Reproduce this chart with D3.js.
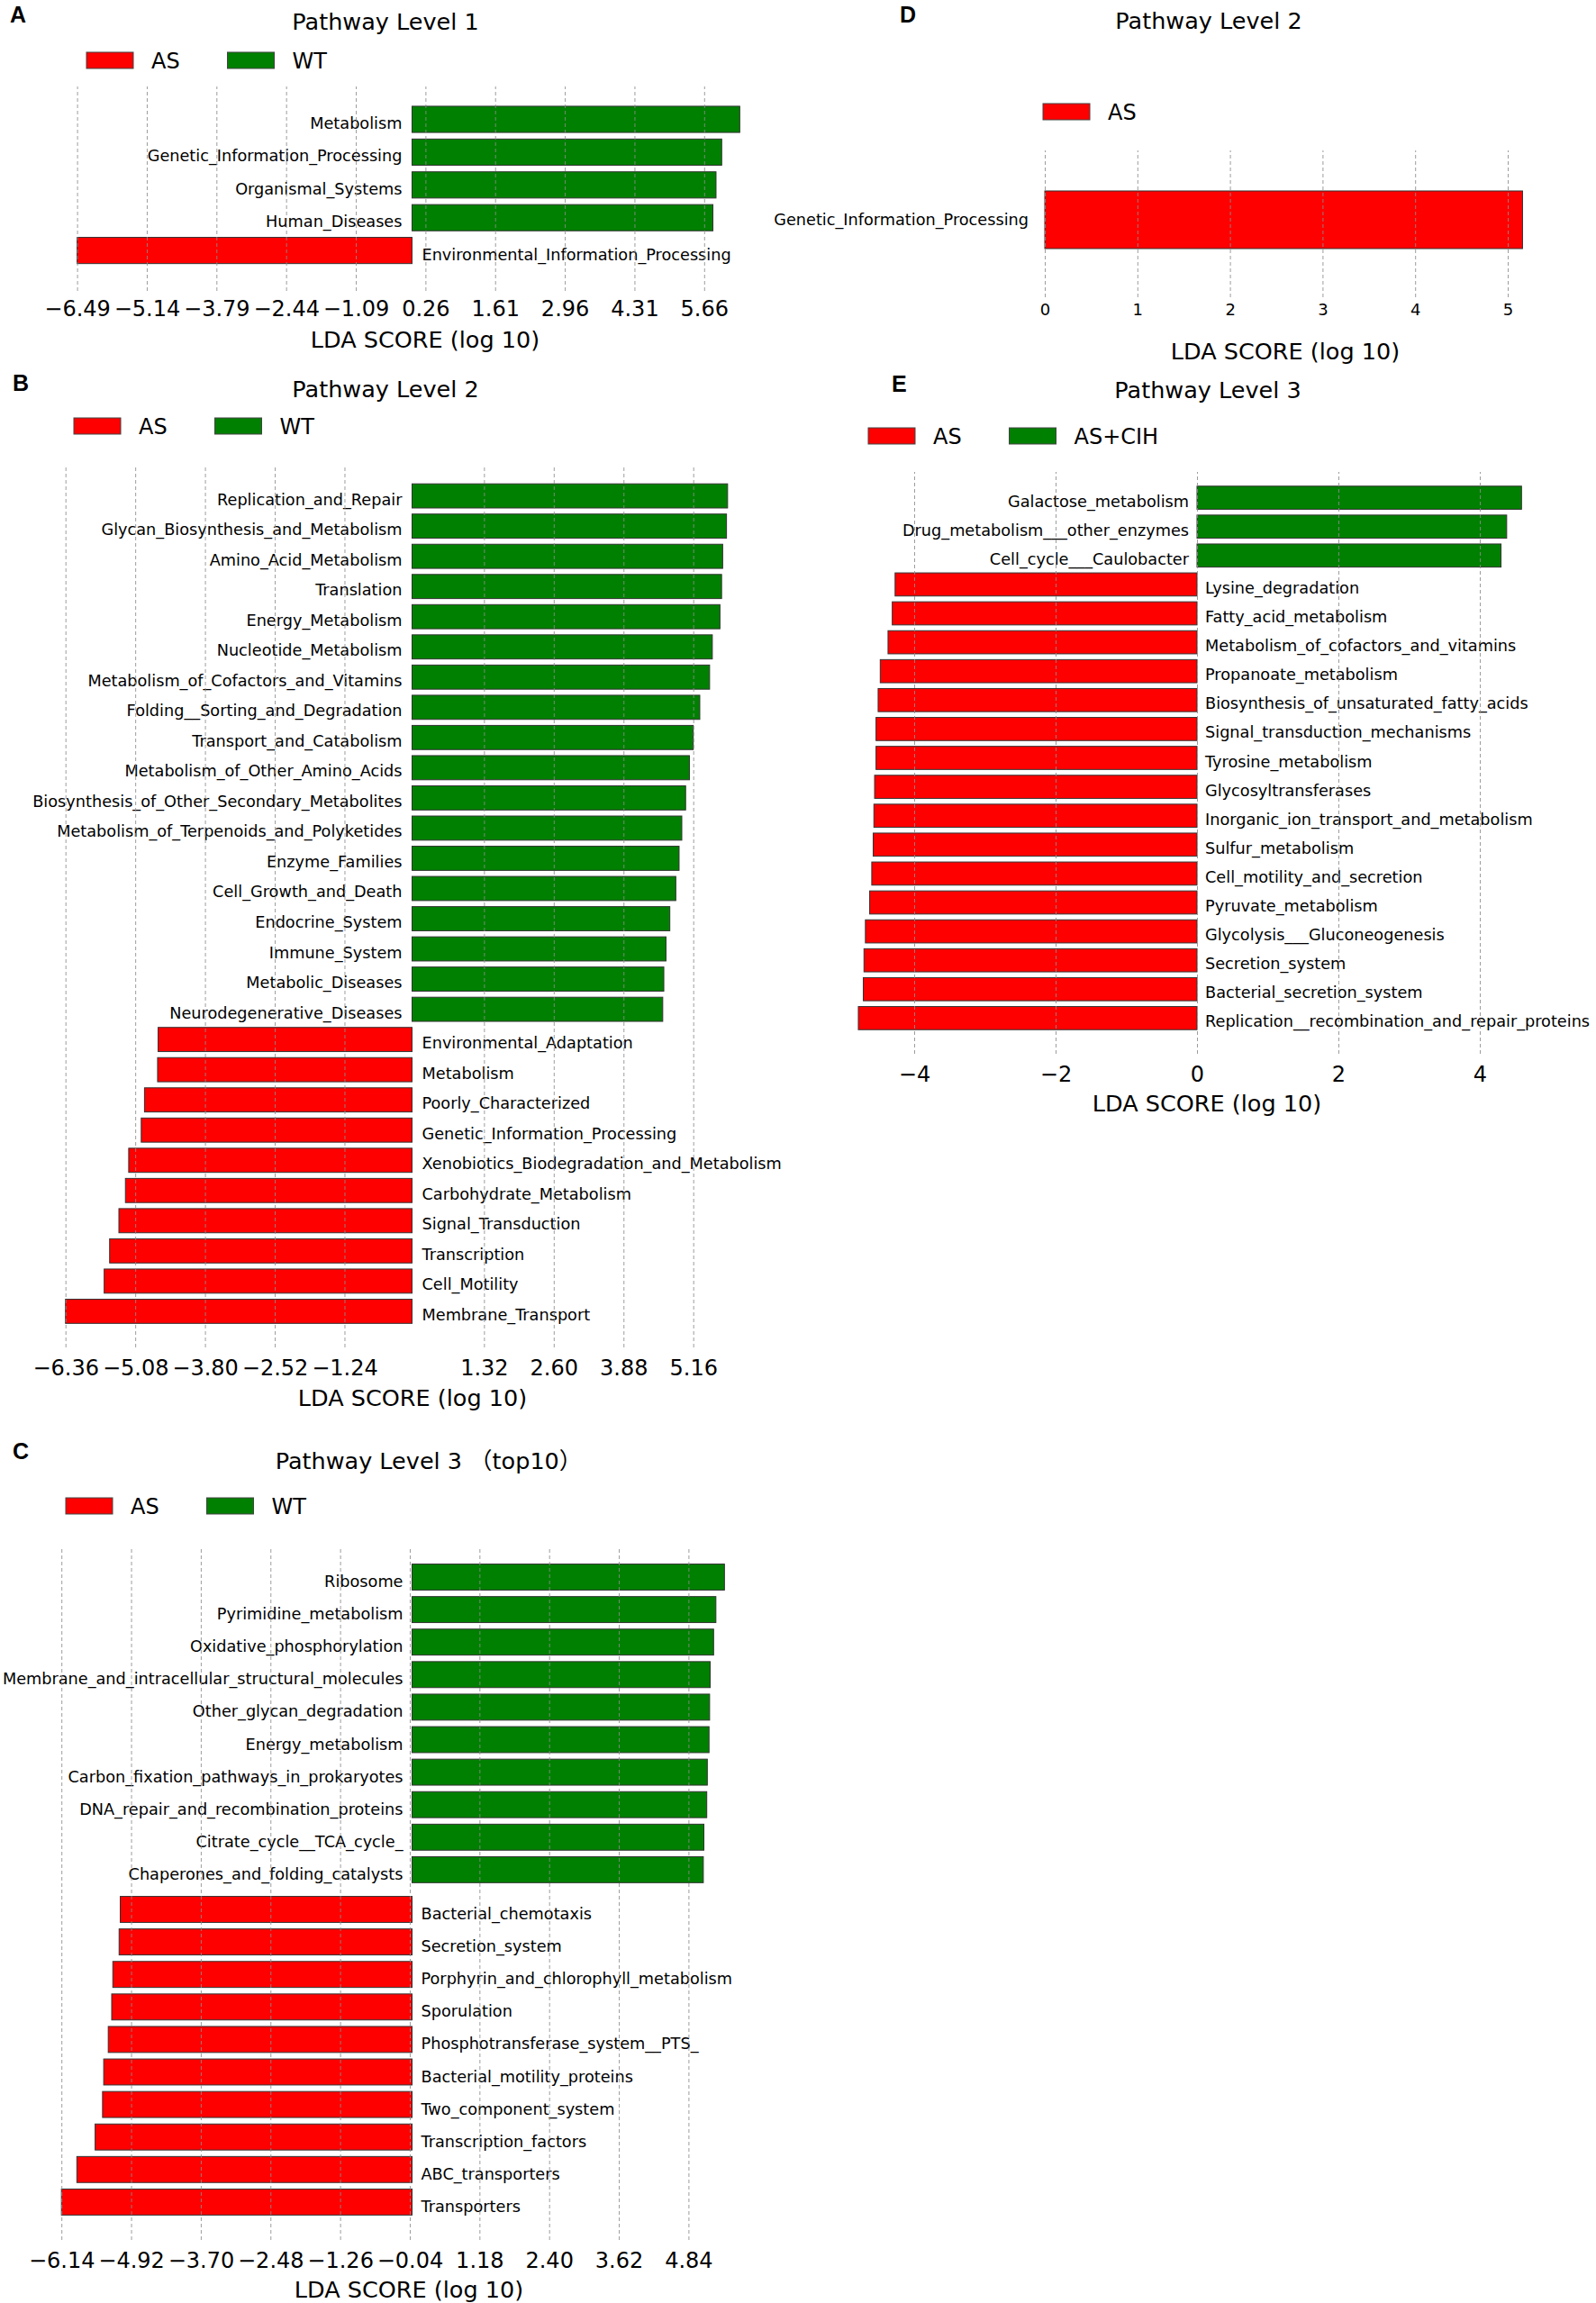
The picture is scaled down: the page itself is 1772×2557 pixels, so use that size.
<!DOCTYPE html>
<html>
<head>
<meta charset="utf-8">
<script src="https://cdn.jsdelivr.net/npm/d3@7"></script>
<style>
body { margin: 0; background: #fff; }
text { font-family: "DejaVu Sans", "Noto Sans CJK SC", sans-serif; fill: #000; }
</style>
</head>
<body>
<div id="fig"></div>
<script>
// ---- data ----
// A: Pathway Level 1
var aLabels = ["Metabolism", "Genetic_Information_Processing", "Organismal_Systems", "Human_Diseases",
    "Environmental_Information_Processing"];
var aScores = [6.35, 6.00, 5.89, 5.83, -6.49];
var aGroups = ["WT", "WT", "WT", "WT", "AS"];
var aTicks = [-6.49, -5.14, -3.79, -2.44, -1.09, 0.26, 1.61, 2.96, 4.31, 5.66];

// B: Pathway Level 2
var bLabels = ["Replication_and_Repair", "Glycan_Biosynthesis_and_Metabolism", "Amino_Acid_Metabolism",
    "Translation", "Energy_Metabolism", "Nucleotide_Metabolism", "Metabolism_of_Cofactors_and_Vitamins",
    "Folding__Sorting_and_Degradation", "Transport_and_Catabolism", "Metabolism_of_Other_Amino_Acids",
    "Biosynthesis_of_Other_Secondary_Metabolites", "Metabolism_of_Terpenoids_and_Polyketides",
    "Enzyme_Families", "Cell_Growth_and_Death", "Endocrine_System", "Immune_System", "Metabolic_Diseases",
    "Neurodegenerative_Diseases", "Environmental_Adaptation", "Metabolism", "Poorly_Characterized",
    "Genetic_Information_Processing", "Xenobiotics_Biodegradation_and_Metabolism", "Carbohydrate_Metabolism",
    "Signal_Transduction", "Transcription", "Cell_Motility", "Membrane_Transport"];
var bScores = [5.79, 5.77, 5.70, 5.68, 5.65, 5.51, 5.46, 5.28, 5.16, 5.09, 5.02, 4.95, 4.90, 4.84,
    4.73, 4.66, 4.62, 4.60,
    -4.66, -4.67, -4.91, -4.97, -5.20, -5.26, -5.38, -5.55, -5.65, -6.36];
var bGroups = bScores.map(function(v){ return v > 0 ? "WT" : "AS"; });
var bTicks = [-6.36, -5.08, -3.80, -2.52, -1.24, 1.32, 2.60, 3.88, 5.16];

// C: Pathway Level 3 (top10)
var cLabels = ["Ribosome", "Pyrimidine_metabolism", "Oxidative_phosphorylation",
    "Membrane_and_intracellular_structural_molecules", "Other_glycan_degradation", "Energy_metabolism",
    "Carbon_fixation_pathways_in_prokaryotes", "DNA_repair_and_recombination_proteins",
    "Citrate_cycle__TCA_cycle_", "Chaperones_and_folding_catalysts",
    "Bacterial_chemotaxis", "Secretion_system", "Porphyrin_and_chlorophyll_metabolism", "Sporulation",
    "Phosphotransferase_system__PTS_", "Bacterial_motility_proteins", "Two_component_system",
    "Transcription_factors", "ABC_transporters", "Transporters"];
var cScores = [5.47, 5.32, 5.28, 5.22, 5.21, 5.20, 5.17, 5.16, 5.11, 5.10,
    -5.11, -5.13, -5.24, -5.26, -5.32, -5.40, -5.42, -5.55, -5.87, -6.14];
var cGroups = cScores.map(function(v){ return v > 0 ? "WT" : "AS"; });
var cTicks = [-6.14, -4.92, -3.70, -2.48, -1.26, -0.04, 1.18, 2.40, 3.62, 4.84];

// D: Pathway Level 2 (AS only)
var dLabels = ["Genetic_Information_Processing"];
var dScores = [5.16];
var dGroups = ["AS"];
var dTicks = [0, 1, 2, 3, 4, 5];

// E: Pathway Level 3, AS vs AS+CIH
var eLabels = ["Galactose_metabolism", "Drug_metabolism___other_enzymes", "Cell_cycle___Caulobacter",
    "Lysine_degradation", "Fatty_acid_metabolism", "Metabolism_of_cofactors_and_vitamins",
    "Propanoate_metabolism", "Biosynthesis_of_unsaturated_fatty_acids", "Signal_transduction_mechanisms",
    "Tyrosine_metabolism", "Glycosyltransferases", "Inorganic_ion_transport_and_metabolism",
    "Sulfur_metabolism", "Cell_motility_and_secretion", "Pyruvate_metabolism",
    "Glycolysis___Gluconeogenesis", "Secretion_system", "Bacterial_secretion_system",
    "Replication__recombination_and_repair_proteins"];
var eScores = [4.59, 4.38, 4.30, -4.27, -4.31, -4.37, -4.48, -4.51, -4.54, -4.54, -4.56, -4.57,
    -4.58, -4.60, -4.63, -4.69, -4.71, -4.72, -4.79];
var eGroups = eScores.map(function(v){ return v > 0 ? "AS+CIH" : "AS"; });
var eTicks = [-4, -2, 0, 2, 4];

var groupColor = {"AS": "#ff0000", "WT": "#008000", "AS+CIH": "#008000"};

// ---- drawing ----
var svg = d3.select("#fig").append("svg")
    .attr("width", 1772)
    .attr("height", 2557);

svg.append("rect").attr("width", 1772).attr("height", 2557).attr("fill", "#fff");

function drawPanel(p) {
    var g = svg.append("g");
    var n = p.labels.length;

    var x = d3.scaleLinear().domain(p.domain).range(p.xrange);
    // bars take 80% of each row, row centres start at p.y0
    var y = d3.scaleBand().domain(d3.range(n))
        .range([p.y0 - p.step / 2, p.y0 - p.step / 2 + n * p.step])
        .paddingInner(0.2).paddingOuter(0.1);
    var yOf = function(i){ return y(i) + (p.groups[i] !== p.groups[0] ? (p.gap || 0) : 0); };
    var leftSide = function(i){ return p.scores[i] > 0 || p.rightOnly; };

    // bars
    g.selectAll("rect.bar").data(p.scores).enter().append("rect")
        .attr("class", "bar")
        .attr("x", function(d){ return x(Math.min(0, d)); })
        .attr("y", function(d, i){ return yOf(i); })
        .attr("width", function(d){ return Math.abs(x(d) - x(0)); })
        .attr("height", y.bandwidth())
        .attr("fill", function(d, i){ return groupColor[p.groups[i]]; })
        .attr("stroke", "#333")
        .attr("stroke-width", 1);

    // bar labels, on the opposite side of zero
    g.selectAll("text.lab").data(p.labels).enter().append("text")
        .attr("class", "lab")
        .attr("x", function(d, i){ return leftSide(i) ? x(0) - p.labelGap : x(0) + p.labelGap; })
        .attr("y", function(d, i){ return yOf(i) + y.bandwidth() / 2 + p.labelDy; })
        .attr("text-anchor", function(d, i){ return leftSide(i) ? "end" : "start"; })
        .style("font-size", "17.7px")
        .text(function(d){ return d; });

    // dashed grid on top of bars
    var grid = g.append("g")
        .attr("transform", "translate(0," + p.gridBottom + ")")
        .call(d3.axisBottom(x).tickValues(p.ticks).tickSize(-(p.gridBottom - p.gridTop)).tickFormat(""));
    grid.select(".domain").remove();
    grid.selectAll("line")
        .attr("stroke", "#8c8c8c")
        .attr("stroke-width", 1)
        .attr("stroke-dasharray", "4,3")
        .attr("opacity", 0.85);

    // tick labels
    var ax = g.append("g")
        .attr("transform", "translate(0," + p.tickBase + ")")
        .call(d3.axisBottom(x).tickValues(p.ticks).tickSize(0).tickFormat(p.fmt));
    ax.select(".domain").remove();
    ax.selectAll("text")
        .attr("y", 0).attr("dy", 0)
        .attr("fill", "#000")
        .style("font-family", "DejaVu Sans, sans-serif")
        .style("font-size", p.tickFs + "px");

    // axis title
    g.append("text")
        .attr("x", p.xlabel[0]).attr("y", p.xlabel[1])
        .attr("text-anchor", "middle")
        .style("font-size", "25.5px")
        .text("LDA SCORE (log 10)");

    // title
    g.append("text")
        .attr("x", p.title[0]).attr("y", p.title[1])
        .attr("text-anchor", "middle")
        .style("font-size", "25.5px")
        .text(p.titleText);

    // panel letter
    g.append("text")
        .attr("x", p.letter[0]).attr("y", p.letter[1])
        .style("font-family", "Liberation Sans, Arial, sans-serif")
        .style("font-weight", "bold")
        .style("font-size", "25px")
        .text(p.letterText);

    // legend
    var lg = g.selectAll("g.leg").data(p.legend).enter().append("g")
        .attr("class", "leg")
        .attr("transform", function(d, i){ return "translate(" + (p.legendPos[0] + i * 156.5) + "," + p.legendPos[1] + ")"; });
    lg.append("rect")
        .attr("width", 52).attr("height", 18)
        .attr("fill", function(d){ return groupColor[d]; })
        .attr("stroke", "#444").attr("stroke-width", 1);
    lg.append("text")
        .attr("x", 72).attr("y", 18)
        .style("font-size", "24px")
        .text(function(d){ return d; });
}

drawPanel({
    labels: aLabels, scores: aScores, groups: aGroups, ticks: aTicks, fmt: d3.format(".2f"),
    domain: [-6.49, 5.66], xrange: [85.6, 781.8],
    y0: 132.5, step: 36.4, labelGap: 11, labelDy: 10.5,
    gridTop: 96, gridBottom: 323, tickBase: 351, tickFs: 24,
    xlabel: [472, 386], title: [428, 33], titleText: "Pathway Level 1",
    letter: [11, 25], letterText: "A", legend: ["AS", "WT"], legendPos: [96, 58]
});

drawPanel({
    labels: bLabels, scores: bScores, groups: bGroups, ticks: bTicks, fmt: d3.format(".2f"),
    domain: [-6.36, 5.16], xrange: [72.7, 769.7],
    y0: 550.6, step: 33.53, labelGap: 11, labelDy: 10,
    gridTop: 517, gridBottom: 1496, tickBase: 1527, tickFs: 24,
    xlabel: [458, 1561], title: [428, 441], titleText: "Pathway Level 2",
    letter: [14, 434], letterText: "B", legend: ["AS", "WT"], legendPos: [82, 464]
});

drawPanel({
    labels: cLabels, scores: cScores, groups: cGroups, ticks: cTicks, fmt: d3.format(".2f"),
    domain: [-6.14, 4.84], xrange: [68.2, 764.4],
    y0: 1751, step: 36.1, gap: 8, labelGap: 10, labelDy: 11,
    gridTop: 1718, gridBottom: 2487, tickBase: 2518, tickFs: 24,
    xlabel: [454, 2551], title: [476, 1631], titleText: "Pathway Level 3 （top10）",
    letter: [14, 1620], letterText: "C", legend: ["AS", "WT"], legendPos: [73, 1663]
});

drawPanel({
    labels: dLabels, scores: dScores, groups: dGroups, ticks: dTicks, fmt: d3.format("d"),
    domain: [0, 5], xrange: [1160, 1674], rightOnly: true,
    y0: 244, step: 80, labelGap: 18, labelDy: 6,
    gridTop: 167, gridBottom: 330, tickBase: 350, tickFs: 18,
    xlabel: [1427, 399], title: [1342, 32], titleText: "Pathway Level 2",
    letter: [999, 25], letterText: "D", legend: ["AS"], legendPos: [1158, 115]
});

drawPanel({
    labels: eLabels, scores: eScores, groups: eGroups, ticks: eTicks, fmt: d3.format("d"),
    domain: [-4, 4], xrange: [1015, 1643],
    y0: 552.6, step: 32.1, labelGap: 9, labelDy: 10,
    gridTop: 524, gridBottom: 1170, tickBase: 1201, tickFs: 24,
    xlabel: [1340, 1234], title: [1341, 442], titleText: "Pathway Level 3",
    letter: [990, 435], letterText: "E", legend: ["AS", "AS+CIH"], legendPos: [964, 475]
});
</script>
</body>
</html>
